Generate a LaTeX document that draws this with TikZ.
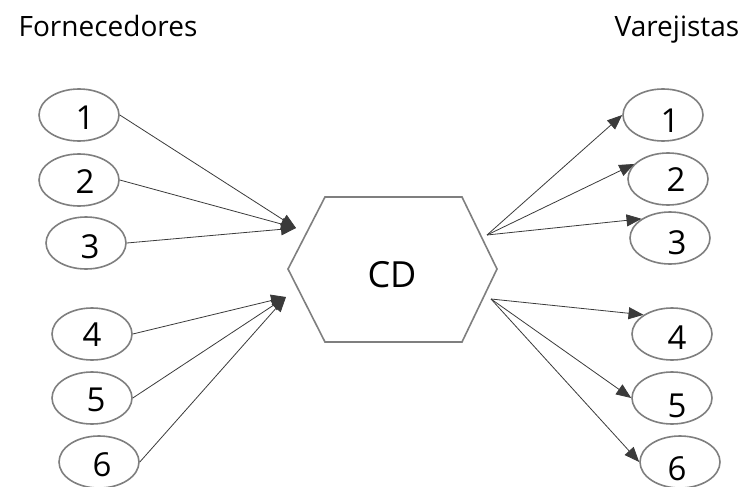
\documentclass[tikz,border=0pt]{standalone}
\usepackage{fontspec}
\setmainfont{Open Sans}
\usetikzlibrary{shapes.geometric,arrows.meta}
\definecolor{edgegray}{HTML}{7F7F7F}
\definecolor{arrgray}{HTML}{3A3A3A}
\tikzset{
  ell/.style={ellipse, draw=edgegray, line width=1.6pt, minimum width=80pt, minimum height=52pt, inner sep=0pt},
  num/.style={font=\fontsize{33}{33}\selectfont, inner sep=0pt, text=black},
  ttl/.style={font=\fontsize{28}{28}\selectfont, inner sep=0pt, text=black, anchor=base},
  conn/.style={draw=arrgray, line width=0.8pt, -{Triangle[length=15pt,width=12pt]}},
  hexa/.style={draw=edgegray, line width=1.6pt, fill=white}
}
\begin{document}
\begin{tikzpicture}[x=1pt,y=-1pt]
\useasboundingbox (0,0) rectangle (747,487);
% titles
\node[ttl] (tf) at (108,37) {Fornecedores};
\node[ttl] (tv) at (677,37) {Varejistas};
% hexagon
\draw[hexa] (288,269) -- (325,197) -- (462,197) -- (497,269) -- (462,342) -- (325,342) -- cycle;
\node[font=\fontsize{36}{36}\selectfont, inner sep=0pt] (cd) at (392,275) {CD};
% left ellipses
\node[ell] (l1) at (79,115) {};
\node[ell] (l2) at (79,180) {};
\node[ell] (l3) at (86,243) {};
\node[ell] (l4) at (92,334) {};
\node[ell] (l5) at (92,398) {};
\node[ell] (l6) at (99,462) {};
\node[num] (nl1) at (85,118) {1};
\node[num] (nl2) at (85,182) {2};
\node[num] (nl3) at (90,247) {3};
\node[num] (nl4) at (92,335) {4};
\node[num] (nl5) at (96,400) {5};
\node[num] (nl6) at (102,465) {6};
% right ellipses
\node[ell] (r1) at (663,115) {};
\node[ell] (r2) at (668,179) {};
\node[ell] (r3) at (670,238) {};
\node[ell] (r4) at (672,334) {};
\node[ell] (r5) at (672,398) {};
\node[ell] (r6) at (680,462) {};
\node[num] (nr1) at (670,121) {1};
\node[num] (nr2) at (676,180) {2};
\node[num] (nr3) at (677,243) {3};
\node[num] (nr4) at (677,338) {4};
\node[num] (nr5) at (677,406) {5};
\node[num] (nr6) at (677,469) {6};
% connector points
\coordinate (inA) at (296,228);
\coordinate (inB) at (286,297);
\coordinate (outA) at (487,235);
\coordinate (outB) at (491,299);
% arrows in
\draw[conn] (l1.east) -- (inA);
\draw[conn] (l2.east) -- (inA);
\draw[conn] (l3.east) -- (inA);
\draw[conn] (l4.east) -- (inB);
\draw[conn] (l5.east) -- (inB);
\draw[conn] (l6.east) -- (inB);
% arrows out
\draw[conn] (outA) -- (r1.west);
\draw[conn] (outA) -- (r2.156);
\draw[conn] (outA) -- (r3.146);
\draw[conn] (outB) -- (r4.146);
\draw[conn] (outB) -- (r5.west);
\draw[conn] (outB) -- (r6.west);
\end{tikzpicture}
\end{document}
